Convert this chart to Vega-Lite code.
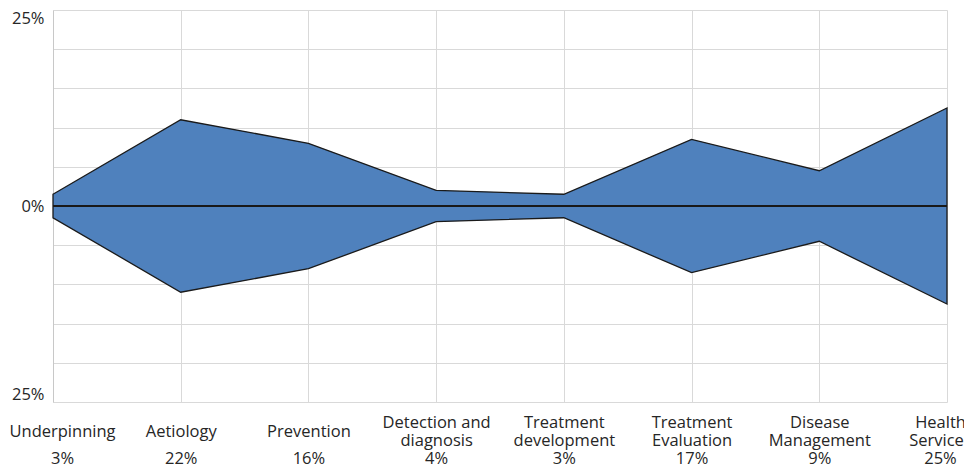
{
  "$schema": "https://vega.github.io/schema/vega-lite/v6.json",
  "autosize": {"type": "none"},
  "padding": {"left": 53, "top": 10, "right": 17, "bottom": 63},
  "width": 894,
  "height": 392,
  "background": "white",
  "config": {
    "font": "Open Sans",
    "view": {"stroke": null}
  },
  "data": {
    "values": [
      {"category": "Underpinning|3%", "share": 3, "upper": 1.5, "lower": -1.5},
      {"category": "Aetiology|22%", "share": 22, "upper": 11, "lower": -11},
      {"category": "Prevention|16%", "share": 16, "upper": 8, "lower": -8},
      {"category": "Detection and|diagnosis|4%", "share": 4, "upper": 2, "lower": -2},
      {"category": "Treatment|development|3%", "share": 3, "upper": 1.5, "lower": -1.5},
      {"category": "Treatment|Evaluation|17%", "share": 17, "upper": 8.5, "lower": -8.5},
      {"category": "Disease|Management|9%", "share": 9, "upper": 4.5, "lower": -4.5},
      {"category": "Health|Services|25%", "share": 25, "upper": 12.5, "lower": -12.5}
    ]
  },
  "encoding": {
    "x": {
      "field": "category", "type": "ordinal", "sort": null,
      "scale": {"type": "point", "padding": 0},
      "axis": {
        "title": null, "labelAngle": 0, "grid": true, "gridColor": "#d9d9d9", "gridWidth": 1,
        "domain": false, "ticks": false,
        "labelFont": "Open Sans", "labelFontSize": 16.5, "labelColor": "#262626",
        "labelLineHeight": 9, "labelPadding": 12, "labelBound": false, "labelFlush": false, "labelOverlap": false, "labelLimit": 0,
        "labelOffset": {"condition": [
          {"test": "indexof(datum.value, 'Underpinning') == 0", "value": 9},
          {"test": "indexof(datum.value, 'Health') == 0", "value": -7}
        ], "value": 0},
        "labelExpr": "length(split(datum.value,'|'))==3 ? [split(datum.value,'|')[0], '\u200b', split(datum.value,'|')[1], '\u200b', split(datum.value,'|')[2]] : ['\u200b', split(datum.value,'|')[0], '\u200b', '\u200b', split(datum.value,'|')[1]]"
      }
    }
  },
  "layer": [
    {
      "mark": {"type": "area", "color": "#4F81BD", "stroke": "#1a1a1a", "strokeWidth": 1.3, "opacity": 1},
      "encoding": {
        "y": {
          "field": "upper", "type": "quantitative",
          "scale": {"domain": [-25, 25], "nice": false, "zero": false},
          "axis": {
            "title": null, "values": [-25, -20, -15, -10, -5, 0, 5, 10, 15, 20, 25], "tickCount": 20,
            "grid": true, "gridColor": "#d9d9d9", "gridWidth": 1,
            "domain": true, "domainColor": "#c8c8c8", "ticks": false,
            "labelFont": "Open Sans", "labelFontSize": 16.5, "labelColor": "#262626", "labelPadding": 9,
            "labelFlush": true, "labelOverlap": false,
            "labelExpr": "abs(datum.value) == 25 || datum.value == 0 ? abs(datum.value) + '%' : ''"
          }
        },
        "y2": {"field": "lower"}
      }
    },
    {
      "mark": {"type": "rule", "color": "#1a1a1a", "strokeWidth": 1.6},
      "encoding": {
        "x": {"value": 0},
        "x2": {"value": 894},
        "y": {"datum": 0, "type": "quantitative"}
      }
    }
  ]
}
